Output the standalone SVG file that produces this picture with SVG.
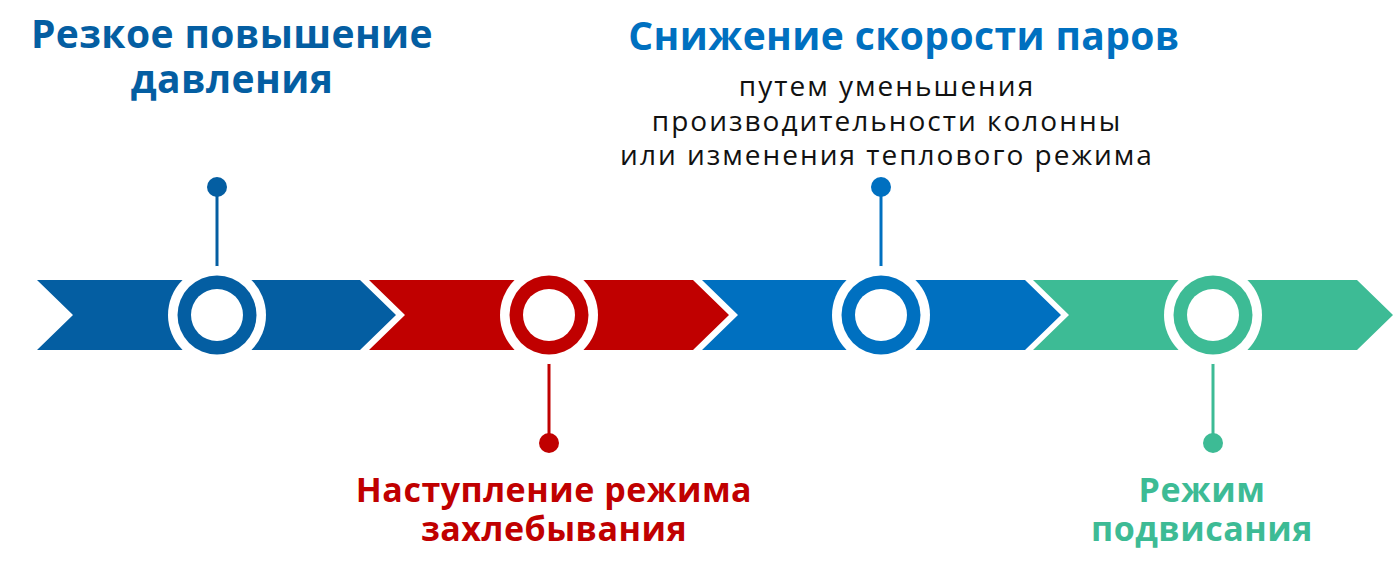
<svg xmlns="http://www.w3.org/2000/svg" width="1394" height="570" viewBox="0 0 1394 570">
<style>
.t{font-family:"Open Sans","Noto Sans","DejaVu Sans",sans-serif;font-weight:700;text-anchor:middle}
.tt{font-size:39px;letter-spacing:0.4px}
.tb{font-size:34px;letter-spacing:0.5px}
.s{font-family:"Open Sans","Noto Sans","DejaVu Sans",sans-serif;font-weight:400;font-size:28px;letter-spacing:2px;text-anchor:middle;fill:#111}
.halo{fill:#fff}
.in{fill:#fff}
</style>
<rect width="1394" height="570" fill="#fff"/>
<g id="band">
<polygon points="37,280 360,280 396,315 360,350 37,350 73,315" fill="#045EA2"/>
<polygon points="369,280 693,280 729,315 693,350 369,350 405,315" fill="#C00000"/>
<polygon points="702,280 1025,280 1061,315 1025,350 702,350 738,315" fill="#0070C0"/>
<polygon points="1033,280 1357,280 1393,315 1357,350 1033,350 1069,315" fill="#3DBB95"/>
</g>
<g id="connectors">
<line x1="217" y1="187" x2="217" y2="276" stroke="#045EA2" stroke-width="3"/>
<line x1="549" y1="354" x2="549" y2="443" stroke="#C00000" stroke-width="3"/>
<line x1="881" y1="187" x2="881" y2="276" stroke="#0070C0" stroke-width="3"/>
<line x1="1213" y1="354" x2="1213" y2="443" stroke="#3DBB95" stroke-width="3"/>
</g>
<g id="node1">
<circle cx="217" cy="315" r="49" class="halo"/>
<circle cx="217" cy="315" r="39.5" fill="#045EA2"/>
<circle cx="217" cy="315" r="26" class="in"/>
<circle cx="217" cy="187" r="10" fill="#045EA2"/>
<text class="t tt" fill="#045EA2" x="232" y="48">Резкое повышение</text>
<text class="t tt" fill="#045EA2" x="232" y="93">давления</text>
</g>
<g id="node2">
<circle cx="549" cy="315" r="49" class="halo"/>
<circle cx="549" cy="315" r="39.5" fill="#C00000"/>
<circle cx="549" cy="315" r="26" class="in"/>
<circle cx="549" cy="443" r="10" fill="#C00000"/>
<text class="t tb" fill="#C00000" x="554" y="502">Наступление режима</text>
<text class="t tb" fill="#C00000" x="554" y="541">захлебывания</text>
</g>
<g id="node3">
<circle cx="881" cy="315" r="49" class="halo"/>
<circle cx="881" cy="315" r="39.5" fill="#0070C0"/>
<circle cx="881" cy="315" r="26" class="in"/>
<circle cx="881" cy="187" r="10" fill="#0070C0"/>
<text class="t tt" fill="#0070C0" x="904" y="50">Снижение скорости паров</text>
<text class="s" x="887" y="96">путем уменьшения</text>
<text class="s" x="887" y="131">производительности колонны</text>
<text class="s" x="887" y="165">или изменения теплового режима</text>
</g>
<g id="node4">
<circle cx="1213" cy="315" r="49" class="halo"/>
<circle cx="1213" cy="315" r="39.5" fill="#3DBB95"/>
<circle cx="1213" cy="315" r="26" class="in"/>
<circle cx="1213" cy="443" r="10" fill="#3DBB95"/>
<text class="t tb" fill="#3DBB95" x="1202" y="502">Режим</text>
<text class="t tb" fill="#3DBB95" x="1202" y="541">подвисания</text>
</g>
</svg>
